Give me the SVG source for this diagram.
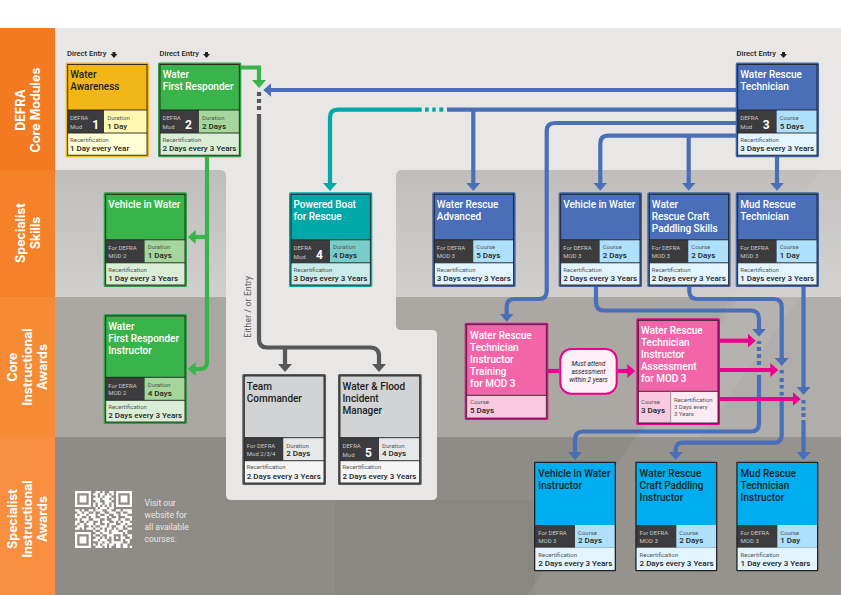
<svg xmlns="http://www.w3.org/2000/svg" width="841" height="595" viewBox="0 0 841 595">
<style>
text{font-family:Roboto,"Liberation Sans",sans-serif;fill:#222}
.t{font-size:10px;font-weight:500}
.w{fill:#fff}
.s{font-size:6px;fill:#555}
.sl{font-size:6px;fill:#c8c8c8}
.v{font-size:8px;font-weight:500;fill:#222}
.n{font-size:12px;font-weight:700;fill:#fff;text-anchor:middle}
.de{font-size:7.6px;font-weight:500}
.cap{font-size:8.5px;fill:#e8e7e5}
.side{font-family:Inter,"Liberation Sans",sans-serif;font-size:12.5px;font-weight:700;fill:#fff;text-anchor:middle}
.l{fill:none;stroke:#222;stroke-width:.9}
.c{fill:none;stroke-width:4.2}
.blue{stroke:#4a6fb8}.green{stroke:#39b44a}.gray{stroke:#58585a}.teal{stroke:#00a9a8}.pink{stroke:#ec008c}
.dl{fill:#3c3c3e}
</style>
<defs>
<linearGradient id="b2" x1="0" y1="0" x2="0" y2="1"><stop offset="0" stop-color="#bfbebc"/><stop offset="1" stop-color="#d0cfcd"/></linearGradient>
<marker id="ab" markerUnits="userSpaceOnUse" markerWidth="8" markerHeight="14" refX="4" refY="7" orient="auto"><path d="M0 0L8 7L0 14z" fill="#4a6fb8"/></marker>
<marker id="ag" markerUnits="userSpaceOnUse" markerWidth="8" markerHeight="14" refX="4" refY="7" orient="auto"><path d="M0 0L8 7L0 14z" fill="#39b44a"/></marker>
<marker id="ay" markerUnits="userSpaceOnUse" markerWidth="8" markerHeight="14" refX="4" refY="7" orient="auto"><path d="M0 0L8 7L0 14z" fill="#58585a"/></marker>
<marker id="at" markerUnits="userSpaceOnUse" markerWidth="8" markerHeight="14" refX="4" refY="7" orient="auto"><path d="M0 0L8 7L0 14z" fill="#00a9a8"/></marker>
<marker id="ap" markerUnits="userSpaceOnUse" markerWidth="8" markerHeight="14" refX="4" refY="7" orient="auto"><path d="M0 0L8 7L0 14z" fill="#ec008c"/></marker>
</defs>

<g id="background">
<rect width="841" height="595" fill="#fff"/>
<rect x="55" y="28" width="786" height="567" fill="#e8e7e5"/>
<path d="M55 170H220Q226 170 226 176V297H55z" fill="url(#b2)"/>
<path d="M396 176Q396 170 402 170H841V297H396z" fill="url(#b2)"/>
<rect x="55" y="297" width="786" height="140" fill="#aba8a4"/>
<rect x="55" y="437" width="786" height="158" fill="#8f8b86"/>
<path d="M226 170H396V325Q396 330 401 330H432Q437 330 437 335V495Q437 500 432 500H231Q226 500 226 495z" fill="#e8e7e5"/>
<polygon points="527,595 841,140 841,595" fill="#fff" fill-opacity=".07"/>
<polygon points="640,437 740,297 800,297 700,437" fill="#fff" fill-opacity=".07"/>
<rect x="335" y="500" width="200" height="95" fill="#000" fill-opacity=".03"/>
<rect y="28" width="55" height="142" fill="#f47a22"/>
<rect y="170" width="55" height="127" fill="#f58229"/>
<rect y="297" width="55" height="140" fill="#f68a35"/>
<rect y="437" width="55" height="158" fill="#f88e40"/>
<g class="labels">
<text class="side" transform="translate(25.3 110) rotate(-90)">DEFRA</text>
<text class="side" transform="translate(40 110) rotate(-90)">Core Modules</text>
<text class="side" transform="translate(25.3 233) rotate(-90)">Specialist</text>
<text class="side" transform="translate(40 233) rotate(-90)">Skills</text>
<text class="side" transform="translate(17.3 367) rotate(-90)">Core</text>
<text class="side" transform="translate(31.7 367) rotate(-90)">Instructional</text>
<text class="side" transform="translate(46.5 367) rotate(-90)">Awards</text>
<text class="side" transform="translate(17.3 519) rotate(-90)">Specialist</text>
<text class="side" transform="translate(31.7 519) rotate(-90)">Instructional</text>
<text class="side" transform="translate(46.5 519) rotate(-90)">Awards</text>
</g>
</g>

<g id="qr" transform="translate(75 491) scale(2.28)" fill="none" stroke="#fff" stroke-width="1">
<path d="M0 .5h7M18 .5h7M0 1.500h1M6 1.500h1M18 1.500h1M24 1.500h1M0 2.500h1M2 2.500h3M6 2.500h1M18 2.500h1M20 2.500h3M24 2.500h1M0 3.500h1M2 3.500h3M6 3.500h1M18 3.500h1M20 3.500h3M24 3.500h1M0 4.500h1M2 4.500h3M6 4.500h1M18 4.500h1M20 4.500h3M24 4.500h1M0 5.500h1M6 5.500h1M18 5.500h1M24 5.500h1M0 6.500h7M18 6.500h7"/>
<path d="M0 18.500h7M0 19.500h1M6 19.500h1M0 20.500h1M2 20.500h3M6 20.500h1M0 21.500h1M2 21.500h3M6 21.500h1M0 22.500h1M2 22.500h3M6 22.500h1M0 23.500h1M6 23.500h1M0 24.500h7"/>
<path d="M9 .5h2M12 .5h1M15 .5h2M8 1.500h2M11 1.500h2M14 1.500h1M16 1.500h1M9 2.500h1M11 2.500h1M13 2.500h3M8 3.500h3M12 3.500h3M16 3.500h1M9 4.500h2M13 4.500h3M8 5.500h1M10 5.500h2M13 5.500h2M16 5.500h1M8 6.500h1M10 6.500h1M12 6.500h1M14 6.500h1M16 6.500h1M9 7.500h1M11 7.500h3M15 7.500h2"/>
<path d="M0 8.500h2M3 8.500h1M6 8.500h2M9 8.500h3M14 8.500h2M18 8.500h2M21 8.500h4M1 9.500h2M4 9.500h2M8 9.500h1M11 9.500h2M15 9.500h3M20 9.500h1M23 9.500h2M0 10.500h1M2 10.500h3M6 10.500h3M10 10.500h1M13 10.500h2M17 10.500h2M20 10.500h3M0 11.500h3M5 11.500h1M7 11.500h2M11 11.500h3M15 11.500h1M18 11.500h1M22 11.500h3M1 12.500h1M3 12.500h3M8 12.500h3M13 12.500h1M16 12.500h3M20 12.500h2M24 12.500h1M0 13.500h2M4 13.500h1M6 13.500h2M10 13.500h1M12 13.500h3M17 13.500h1M19 13.500h1M21 13.500h3M0 14.500h1M2 14.500h2M5 14.500h3M9 14.500h2M13 14.500h1M15 14.500h3M20 14.500h2M23 14.500h2M1 15.500h3M6 15.500h1M8 15.500h1M11 15.500h3M15 15.500h1M18 15.500h3M22 15.500h1M0 16.500h2M3 16.500h1M5 16.500h3M9 16.500h2M12 16.500h1M14 16.500h2M17 16.500h1M19 16.500h2M23 16.500h2M8 17.500h1M11 17.500h2M14 17.500h1M16 17.500h3M21 17.500h2"/>
<path d="M9 18.500h2M12 18.500h3M16 18.500h5M22 18.500h1M8 19.500h1M11 19.500h1M14 19.500h2M16 19.500h1M20 19.500h1M23 19.500h2M9 20.500h2M12 20.500h1M14 20.500h1M16 20.500h1M18 20.500h1M20 20.500h2M24 20.500h1M8 21.500h2M11 21.500h3M16 21.500h1M20 21.500h1M22 21.500h2M10 22.500h2M13 22.500h2M16 22.500h5M23 22.500h1M8 23.500h1M10 23.500h1M12 23.500h2M15 23.500h2M18 23.500h2M21 23.500h2M9 24.500h3M13 24.500h1M15 24.500h1M18 24.500h2M21 24.500h2M24 24.500h1"/>
</g>
<g id="qr-caption">
<text class="cap" x="144.500" y="506">Visit our</text>
<text class="cap" x="144.500" y="518">website for</text>
<text class="cap" x="144.500" y="530">all available</text>
<text class="cap" x="144.500" y="542">courses.</text>
</g>

<g id="direct-entry">
<text class="de" x="67" y="55.500">Direct Entry</text>
<text class="de" x="159.500" y="55.500">Direct Entry</text>
<text class="de" x="736.500" y="55.500">Direct Entry</text>
<polygon id="de1" points="112.500,52 115.500,52 115.500,54 117.500,54 114,58 110.500,54 112.500,54" fill="#222"/>
<polygon id="de2" points="205,52 208,52 208,54 210,54 206.500,58 203,54 205,54" fill="#222"/>
<polygon id="de3" points="782,52 785,52 785,54 787,54 783.500,58 780,54 782,54" fill="#222"/>
</g>

<text id="either-or" transform="translate(250.700 337.700) rotate(-90)" font-size="8.500" style="fill:#58585a;letter-spacing:.2px">Either / or Entry</text>

<g id="connectors">
<path class="c gray" d="M259 92v4M259 99v4M259 106v4"/>
<path class="c gray" d="M259 114V339Q259 347.500 267 347.500H370Q379 347.500 379 356V368" marker-end="url(#ay)"/>
<path class="c gray" d="M285 347.500V368" marker-end="url(#ay)"/>
<path class="c green" d="M241 67.500H259V84" marker-end="url(#ag)"/>
<path class="c green" d="M207 157V362Q207 369 200 369H191.700" marker-end="url(#ag)"/>
<path class="c green" d="M207 237H191.700" marker-end="url(#ag)"/>
<path class="c blue" d="M736 90H267.300" marker-end="url(#ab)"/>
<path class="c blue" d="M736 109.700H447"/>
<path class="c blue" d="M473.300 109.700V187" marker-end="url(#ab)"/>
<path class="c teal" d="M421.700 109.700H338Q330 109.700 330 117.700V187" marker-end="url(#at)"/>
<path class="c teal" d="M425 109.700h3.700M432.300 109.700h3.400M439.300 109.700h4"/>
<path class="c blue" d="M736 123H555Q546.700 123 546.700 131V291Q546.700 299 538.700 299H514.700Q506.700 299 506.700 307V317.700" marker-end="url(#ab)"/>
<path class="c blue" d="M736 135.700H608Q600.300 135.700 600.300 143.700V186.700" marker-end="url(#ab)"/>
<path class="c blue" d="M688.700 135.700V186.700" marker-end="url(#ab)"/>
<path class="c blue" d="M777 157V186.700" marker-end="url(#ab)"/>
<path class="c blue" d="M596 287V302Q596 310.500 604 310.500H751Q759 310.500 759 319V332.700" marker-end="url(#ab)"/>
<path class="c blue" d="M759 341v3M759 347v4M759 354v4M759 361v4"/>
<path class="c blue" d="M759 375V423Q759 431.500 751 431.500H583Q575 431.500 575 439.500V456" marker-end="url(#ab)"/>
<path class="c blue" d="M689.300 287V291Q689.300 299 697 299H774Q781.700 299 781.700 307V362" marker-end="url(#ab)"/>
<path class="c blue" d="M781.700 370v3.500M781.700 378v4M781.700 385v3.500M781.700 392v3.500"/>
<path class="c blue" d="M781.700 400V435Q781.700 442.700 774 442.700H683Q675.700 442.700 675.700 450V456" marker-end="url(#ab)"/>
<path class="c blue" d="M803.500 287V391" marker-end="url(#ab)"/>
<path class="c blue" d="M803.500 400v3.500M803.500 407v3.500M803.500 413v4"/>
<path class="c blue" d="M803.500 420V456" marker-end="url(#ab)"/>
<path class="c pink" d="M548 371H559"/>
<path class="c pink" d="M617.700 371H631.300" marker-end="url(#ap)"/>
<path class="c pink" d="M720 340.700H751.700" marker-end="url(#ap)"/>
<path class="c pink" d="M720 370H774.300" marker-end="url(#ap)"/>
<path class="c pink" d="M720 399H796.700" marker-end="url(#ap)"/>
</g>

<g id="node-water-awareness" transform="translate(65.700 62.500)">
<rect width="83.300" height="94.700" rx="1.500" fill="#f2b717"/>
<rect x="2" y="47.500" width="36.300" height="23" class="dl"/><rect x="38.300" y="47.500" width="43" height="23" fill="#fff8b0"/><rect x="2" y="70.500" width="79.300" height="22.200" fill="#fffdd4"/>
<rect x="2" y="2" width="79.300" height="90.700" class="l"/><path class="l" d="M2 47.500H81.300M2 70.500H81.300"/>
<text class="t" x="4.500" y="15.500">Water</text><text class="t" x="4.500" y="27.500">Awareness</text>
<text class="sl" x="4.300" y="57.500">DEFRA</text><text class="sl" x="4.300" y="66.500">Mod</text><text class="n" x="30" y="66.500">1</text>
<text class="s" x="41.500" y="57">Duration</text><text class="v" x="41.500" y="66">1 Day</text>
<text class="s" x="4.300" y="79.300">Recertification</text><text class="v" x="4.300" y="88.500">1 Day every Year</text>
</g>

<g id="node-water-first-responder" transform="translate(158 62.500)">
<rect width="83.300" height="94.700" rx="1.500" fill="#2f9e44"/><rect x="2" y="2" width="79.300" height="45.500" fill="#39b44a"/>
<rect x="2" y="47.500" width="39" height="23" class="dl"/><rect x="41" y="47.500" width="40.300" height="23" fill="#a5d69c"/><rect x="2" y="70.500" width="79.300" height="22.200" fill="#daeed6"/>
<rect x="2" y="2" width="79.300" height="90.700" class="l"/><path class="l" d="M2 47.500H81.300M2 70.500H81.300"/>
<text class="t w" x="4.700" y="15.500">Water</text><text class="t w" x="4.700" y="27.500">First Responder</text>
<text class="sl" x="4.500" y="57.500">DEFRA</text><text class="sl" x="4.500" y="66.500">Mod</text><text class="n" x="30.500" y="66.500">2</text>
<text class="s" x="44" y="57">Duration</text><text class="v" x="44" y="66">2 Days</text>
<text class="s" x="4.500" y="79.300">Recertification</text><text class="v" x="4.500" y="88.500">2 Days every 3 Years</text>
</g>

<g id="node-water-rescue-technician" transform="translate(735.700 62.500)">
<rect width="83.300" height="94.700" rx="1.500" fill="#3d62a8"/><rect x="2" y="2" width="79.300" height="45.500" fill="#4a6fb8"/>
<rect x="2" y="47.500" width="39" height="23" class="dl"/><rect x="41" y="47.500" width="40.300" height="23" fill="#aee0fb"/><rect x="2" y="70.500" width="79.300" height="22.200" fill="#e2f4fd"/>
<rect x="2" y="2" width="79.300" height="90.700" class="l"/><path class="l" d="M2 47.500H81.300M2 70.500H81.300"/>
<text class="t w" x="4.500" y="15.500">Water Rescue</text><text class="t w" x="4.500" y="27.500">Technician</text>
<text class="sl" x="4.500" y="57.500">DEFRA</text><text class="sl" x="4.500" y="66.500">Mod</text><text class="n" x="30.500" y="66.500">3</text>
<text class="s" x="44" y="57">Course</text><text class="v" x="44" y="66">5 Days</text>
<text class="s" x="4.500" y="79.300">Recertification</text><text class="v" x="4.500" y="88.500">3 Days every 3 Years</text>
</g>

<g id="node-vehicle-in-water-green" transform="translate(103.700 192.300)">
<rect width="83.300" height="94.700" rx="1.500" fill="#2f9e44"/><rect x="2" y="2" width="79.300" height="45.500" fill="#39b44a"/>
<rect x="2" y="47.500" width="39" height="23" class="dl"/><rect x="41" y="47.500" width="40.300" height="23" fill="#a5d69c"/><rect x="2" y="70.500" width="79.300" height="22.200" fill="#daeed6"/>
<rect x="2" y="2" width="79.300" height="90.700" class="l"/><path class="l" d="M2 47.500H81.300M2 70.500H81.300"/>
<text class="t w" x="4.500" y="16">Vehicle in Water</text>
<text class="sl" x="4.500" y="58">For DEFRA</text><text class="sl" x="4.500" y="65.300">MOD 2</text>
<text class="s" x="44" y="57">Duration</text><text class="v" x="44" y="66">1 Days</text>
<text class="s" x="4.500" y="79.300">Recertification</text><text class="v" x="4.500" y="88.500">1 Day every 3 Years</text>
</g>

<g id="node-powered-boat" transform="translate(289 192.300)">
<rect width="83.300" height="94.700" rx="1.500" fill="#00a9a8"/>
<rect x="2" y="47.500" width="39" height="23" class="dl"/><rect x="41" y="47.500" width="40.300" height="23" fill="#7accc8"/><rect x="2" y="70.500" width="79.300" height="22.200" fill="#c9ebe9"/>
<rect x="2" y="2" width="79.300" height="90.700" class="l"/><path class="l" d="M2 47.500H81.300M2 70.500H81.300"/>
<text class="t w" x="4.500" y="16">Powered Boat</text><text class="t w" x="4.500" y="28">for Rescue</text>
<text class="sl" x="4.500" y="57.500">DEFRA</text><text class="sl" x="4.500" y="66.500">Mod</text><text class="n" x="30.500" y="66.500">4</text>
<text class="s" x="44" y="57">Duration</text><text class="v" x="44" y="66">4 Days</text>
<text class="s" x="4.500" y="79.300">Recertification</text><text class="v" x="4.500" y="88.500">3 Days every 3 Years</text>
</g>

<g id="node-water-rescue-advanced" transform="translate(432.300 192.300)">
<rect width="83.300" height="94.700" rx="1.500" fill="#3d62a8"/><rect x="2" y="2" width="79.300" height="45.500" fill="#4a6fb8"/>
<rect x="2" y="47.500" width="39" height="23" class="dl"/><rect x="41" y="47.500" width="40.300" height="23" fill="#aee0fb"/><rect x="2" y="70.500" width="79.300" height="22.200" fill="#e2f4fd"/>
<rect x="2" y="2" width="79.300" height="90.700" class="l"/><path class="l" d="M2 47.500H81.300M2 70.500H81.300"/>
<text class="t w" x="4.500" y="16">Water Rescue</text><text class="t w" x="4.500" y="28">Advanced</text>
<text class="sl" x="4.500" y="58">For DEFRA</text><text class="sl" x="4.500" y="65.300">MOD 3</text>
<text class="s" x="44" y="57">Course</text><text class="v" x="44" y="66">5 Days</text>
<text class="s" x="4.500" y="79.300">Recertification</text><text class="v" x="4.500" y="88.500">3 Days every 3 Years</text>
</g>

<g id="node-vehicle-in-water-blue" transform="translate(558.700 192.300)">
<rect width="83.300" height="94.700" rx="1.500" fill="#3d62a8"/><rect x="2" y="2" width="79.300" height="45.500" fill="#4a6fb8"/>
<rect x="2" y="47.500" width="39" height="23" class="dl"/><rect x="41" y="47.500" width="40.300" height="23" fill="#aee0fb"/><rect x="2" y="70.500" width="79.300" height="22.200" fill="#e2f4fd"/>
<rect x="2" y="2" width="79.300" height="90.700" class="l"/><path class="l" d="M2 47.500H81.300M2 70.500H81.300"/>
<text class="t w" x="4.500" y="16">Vehicle in Water</text>
<text class="sl" x="4.500" y="58">For DEFRA</text><text class="sl" x="4.500" y="65.300">MOD 3</text>
<text class="s" x="44" y="57">Course</text><text class="v" x="44" y="66">2 Days</text>
<text class="s" x="4.500" y="79.300">Recertification</text><text class="v" x="4.500" y="88.500">2 Days every 3 Years</text>
</g>

<g id="node-paddling-skills" transform="translate(647.300 192.300)">
<rect width="83.300" height="94.700" rx="1.500" fill="#3d62a8"/><rect x="2" y="2" width="79.300" height="45.500" fill="#4a6fb8"/>
<rect x="2" y="47.500" width="39" height="23" class="dl"/><rect x="41" y="47.500" width="40.300" height="23" fill="#aee0fb"/><rect x="2" y="70.500" width="79.300" height="22.200" fill="#e2f4fd"/>
<rect x="2" y="2" width="79.300" height="90.700" class="l"/><path class="l" d="M2 47.500H81.300M2 70.500H81.300"/>
<text class="t w" x="4.500" y="16">Water</text><text class="t w" x="4.500" y="28">Rescue Craft</text><text class="t w" x="4.500" y="40">Paddling Skills</text>
<text class="sl" x="4.500" y="58">For DEFRA</text><text class="sl" x="4.500" y="65.300">MOD 3</text>
<text class="s" x="44" y="57">Course</text><text class="v" x="44" y="66">2 Days</text>
<text class="s" x="4.500" y="79.300">Recertification</text><text class="v" x="4.500" y="88.500">2 Days every 3 Years</text>
</g>

<g id="node-mud-rescue-technician" transform="translate(735.700 192.300)">
<rect width="83.300" height="94.700" rx="1.500" fill="#3d62a8"/><rect x="2" y="2" width="79.300" height="45.500" fill="#4a6fb8"/>
<rect x="2" y="47.500" width="39" height="23" class="dl"/><rect x="41" y="47.500" width="40.300" height="23" fill="#aee0fb"/><rect x="2" y="70.500" width="79.300" height="22.200" fill="#e2f4fd"/>
<rect x="2" y="2" width="79.300" height="90.700" class="l"/><path class="l" d="M2 47.500H81.300M2 70.500H81.300"/>
<text class="t w" x="4.500" y="16">Mud Rescue</text><text class="t w" x="4.500" y="28">Technician</text>
<text class="sl" x="4.500" y="58">For DEFRA</text><text class="sl" x="4.500" y="65.300">MOD 3</text>
<text class="s" x="44" y="57">Course</text><text class="v" x="44" y="66">1 Day</text>
<text class="s" x="4.500" y="79.300">Recertification</text><text class="v" x="4.500" y="88.500">1 Days every 3 Years</text>
</g>

<g id="node-first-responder-instructor" transform="translate(103.700 314)">
<rect width="83.300" height="110" rx="1.500" fill="#2f9e44"/><rect x="2" y="2" width="79.300" height="61.300" fill="#39b44a"/>
<rect x="2" y="63.300" width="39" height="23" class="dl"/><rect x="41" y="63.300" width="40.300" height="23" fill="#a5d69c"/><rect x="2" y="86.300" width="79.300" height="21.700" fill="#daeed6"/>
<rect x="2" y="2" width="79.300" height="106" class="l"/><path class="l" d="M2 63.300H81.300M2 86.300H81.300"/>
<text class="t w" x="4.500" y="16">Water</text><text class="t w" x="4.500" y="28">First Responder</text><text class="t w" x="4.500" y="40">Instructor</text>
<text class="sl" x="4.500" y="74">For DEFRA</text><text class="sl" x="4.500" y="81.300">MOD 2</text>
<text class="s" x="44" y="73">Duration</text><text class="v" x="44" y="82">4 Days</text>
<text class="s" x="4.500" y="94.700">Recertification</text><text class="v" x="4.500" y="104">2 Days every 3 Years</text>
</g>

<g id="node-team-commander" transform="translate(242.300 374)">
<rect width="83.700" height="111" rx="1.500" fill="#58585a"/><rect x="2" y="2" width="79.700" height="61.700" fill="#d1d3d4"/>
<rect x="2" y="63.700" width="39" height="23" class="dl"/><rect x="41" y="63.700" width="40.700" height="23" fill="#e6e7e8"/><rect x="2" y="86.700" width="79.700" height="22.300" fill="#f5f5f5"/>
<rect x="2" y="2" width="79.700" height="107" class="l"/><path class="l" d="M2 63.700H81.700M2 86.700H81.700"/>
<text class="t" x="4.500" y="16">Team</text><text class="t" x="4.500" y="28">Commander</text>
<text class="sl" x="4.500" y="74.300">For DEFRA</text><text class="sl" x="4.500" y="81.500">Mod 2/3/4</text>
<text class="s" x="44" y="73.500">Duration</text><text class="v" x="44" y="82">2 Days</text>
<text class="s" x="4.500" y="95">Recertification</text><text class="v" x="4.500" y="104.500">2 Days every 3 Years</text>
</g>

<g id="node-flood-incident-manager" transform="translate(338 374)">
<rect width="83.700" height="111" rx="1.500" fill="#58585a"/><rect x="2" y="2" width="79.700" height="61.700" fill="#d1d3d4"/>
<rect x="2" y="63.700" width="39" height="23" class="dl"/><rect x="41" y="63.700" width="40.700" height="23" fill="#e6e7e8"/><rect x="2" y="86.700" width="79.700" height="22.300" fill="#f5f5f5"/>
<rect x="2" y="2" width="79.700" height="107" class="l"/><path class="l" d="M2 63.700H81.700M2 86.700H81.700"/>
<text class="t" x="4.500" y="16">Water &amp; Flood</text><text class="t" x="4.500" y="28">Incident</text><text class="t" x="4.500" y="40">Manager</text>
<text class="sl" x="4.500" y="73.500">DEFRA</text><text class="sl" x="4.500" y="82.500">Mod</text><text class="n" x="30.500" y="83">5</text>
<text class="s" x="44" y="73.500">Duration</text><text class="v" x="44" y="82">4 Days</text>
<text class="s" x="4.500" y="95">Recertification</text><text class="v" x="4.500" y="104.500">2 Days every 3 Years</text>
</g>

<g id="node-instructor-training" transform="translate(464.700 322.700)">
<rect width="83.600" height="97.300" rx="1.500" fill="#ec008c"/><rect x="2" y="2" width="79.600" height="70.600" fill="#f266a9"/>
<rect x="2" y="72.600" width="79.600" height="22.700" fill="#f9c9df"/>
<rect x="2" y="2" width="79.600" height="93.300" class="l" stroke-opacity=".8"/><path class="l" d="M2 72.600H81.600"/>
<text class="t w" x="5.300" y="16.300">Water Rescue</text><text class="t w" x="5.300" y="28.300">Technician</text><text class="t w" x="5.300" y="40.300">Instructor</text><text class="t w" x="5.300" y="52.300">Training</text><text class="t w" x="5.300" y="64.300">for MOD 3</text>
<text class="s" x="5.300" y="81.600">Course</text><text class="v" x="5.300" y="90.600">5 Days</text>
</g>

<g id="node-must-attend">
<rect x="560.300" y="349" width="56.400" height="44.700" rx="11" fill="#fdf0f7" stroke="#ec008c" stroke-width="2"/>
<g font-size="6.500" font-style="italic" text-anchor="middle">
<text x="588.500" y="365.700">Must attend</text><text x="588.500" y="374">assessment</text><text x="588.500" y="382.300">within 2 years</text>
</g>
</g>

<g id="node-instructor-assessment" transform="translate(636.300 318.300)">
<rect width="83.700" height="106.700" rx="1.500" fill="#ec008c"/><rect x="2" y="2" width="79.700" height="71" fill="#f266a9"/>
<rect x="2" y="73" width="32.400" height="31.700" fill="#f9c9df"/><rect x="34.400" y="73" width="47.300" height="31.700" fill="#fdeaf3"/>
<rect x="2" y="2" width="79.700" height="102.700" class="l"/><path class="l" d="M2 73H81.700"/><path d="M34.400 73V104.700" stroke="#999" stroke-width=".9"/>
<text class="t w" x="4.700" y="16">Water Rescue</text><text class="t w" x="4.700" y="28">Technician</text><text class="t w" x="4.700" y="40">Instructor</text><text class="t w" x="4.700" y="52">Assessment</text><text class="t w" x="4.700" y="64">for MOD 3</text>
<text class="s" x="4.700" y="85.700">Course</text><text class="v" x="4.700" y="94.400">3 Days</text>
<text class="s" x="37.700" y="83.400">Recertification</text><text class="s" x="37.700" y="90.700">3 Days every</text><text class="s" x="37.700" y="97.700">3 Years</text>
</g>

<g id="node-vehicle-instructor" transform="translate(534 461.700)">
<rect width="82" height="109.600" rx="1" fill="#222"/><rect x="1.300" y="1.300" width="79.400" height="62" fill="#00adef"/>
<rect x="1.300" y="63.300" width="39.700" height="22.700" class="dl"/><rect x="41" y="63.300" width="39.700" height="22.700" fill="#aee0fb"/><rect x="1.300" y="86" width="79.400" height="22.300" fill="#e2f4fd"/>
<text class="t" x="4.300" y="15.300">Vehicle in Water</text><text class="t" x="4.300" y="27.300">Instructor</text>
<text class="sl" x="4.300" y="73.800">For DEFRA</text><text class="sl" x="4.300" y="81">MOD 3</text>
<text class="s" x="44" y="73">Course</text><text class="v" x="44" y="81.300">2 Days</text>
<text class="s" x="4.300" y="95">Recertification</text><text class="v" x="4.300" y="104">2 Days every 3 Years</text>
</g>

<g id="node-paddling-instructor" transform="translate(635.300 461.700)">
<rect width="82" height="109.600" rx="1" fill="#222"/><rect x="1.300" y="1.300" width="79.400" height="62" fill="#00adef"/>
<rect x="1.300" y="63.300" width="39.700" height="22.700" class="dl"/><rect x="41" y="63.300" width="39.700" height="22.700" fill="#aee0fb"/><rect x="1.300" y="86" width="79.400" height="22.300" fill="#e2f4fd"/>
<text class="t" x="4.300" y="15.300">Water Rescue</text><text class="t" x="4.300" y="27.300">Craft Paddling</text><text class="t" x="4.300" y="39.300">Instructor</text>
<text class="sl" x="4.300" y="73.800">For DEFRA</text><text class="sl" x="4.300" y="81">MOD 3</text>
<text class="s" x="44" y="73">Course</text><text class="v" x="44" y="81.300">2 Days</text>
<text class="s" x="4.300" y="95">Recertification</text><text class="v" x="4.300" y="104">2 Days every 3 Years</text>
</g>

<g id="node-mud-instructor" transform="translate(736.300 461.700)">
<rect width="82" height="109.600" rx="1" fill="#222"/><rect x="1.300" y="1.300" width="79.400" height="62" fill="#00adef"/>
<rect x="1.300" y="63.300" width="39.700" height="22.700" class="dl"/><rect x="41" y="63.300" width="39.700" height="22.700" fill="#aee0fb"/><rect x="1.300" y="86" width="79.400" height="22.300" fill="#e2f4fd"/>
<text class="t" x="4.300" y="15.300">Mud Rescue</text><text class="t" x="4.300" y="27.300">Technician</text><text class="t" x="4.300" y="39.300">Instructor</text>
<text class="sl" x="4.300" y="73.800">For DEFRA</text><text class="sl" x="4.300" y="81">MOD 3</text>
<text class="s" x="44" y="73">Course</text><text class="v" x="44" y="81.300">1 Day</text>
<text class="s" x="4.300" y="95">Recertification</text><text class="v" x="4.300" y="104">1 Day every 3 Years</text>
</g>
</svg>
